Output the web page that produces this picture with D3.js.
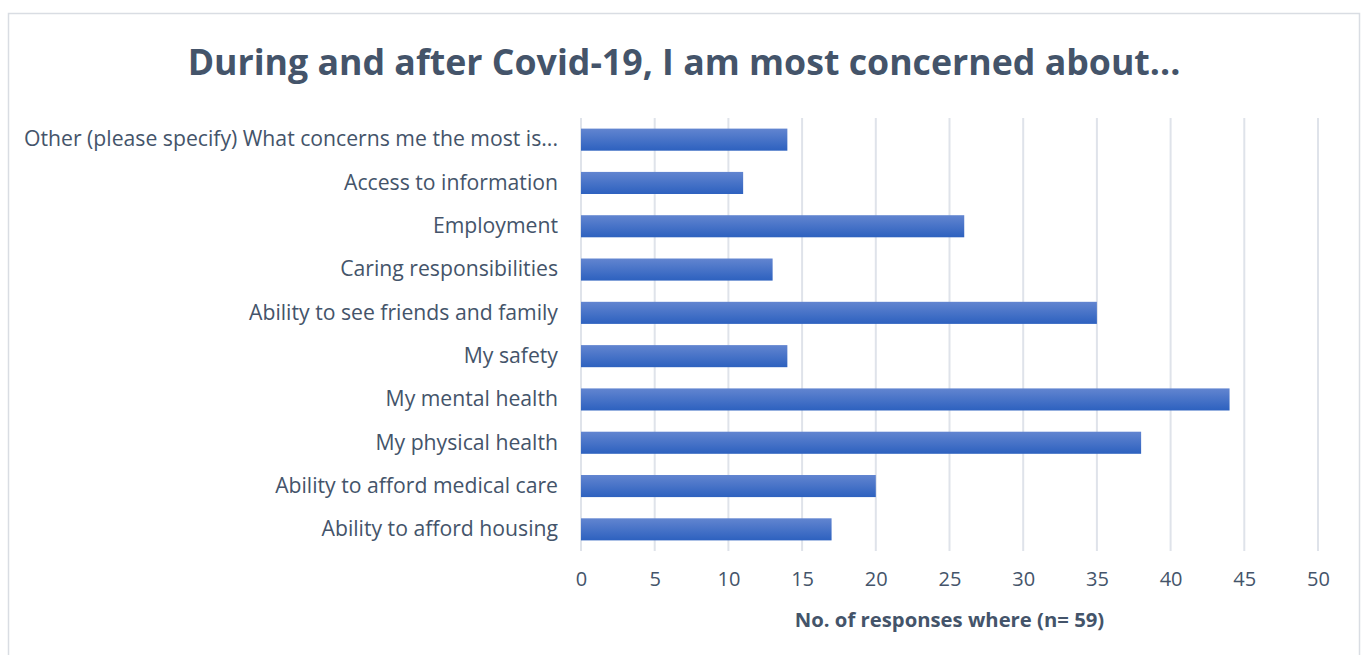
<!DOCTYPE html>
<html>
<head>
<meta charset="utf-8">
<script src="https://cdn.jsdelivr.net/npm/d3@7"></script>
<style>
  body { margin: 0; background: #fff; }
  svg { display: block; font-family: "Open Sans", Lato, sans-serif; }
</style>
</head>
<body>
<svg id="chart"></svg>
<script>
const categories = [
  'Other (please specify) What concerns me the most is...',
  'Access to information',
  'Employment',
  'Caring responsibilities',
  'Ability to see friends and family',
  'My safety',
  'My mental health',
  'My physical health',
  'Ability to afford medical care',
  'Ability to afford housing'
];
const responses = [14, 11, 26, 13, 35, 14, 44, 38, 20, 17];
const xTicks = [0, 5, 10, 15, 20, 25, 30, 35, 40, 45, 50];

const width = 1365;
const height = 655;
const margin = { top: 118, right: 47, bottom: 104, left: 581 };
const textColor = '#44546a';

const svg = d3.select('#chart')
  .attr('width', width)
  .attr('height', height);

// outer chart border
svg.append('rect')
  .attr('x', 8.5).attr('y', 13.5)
  .attr('width', 1351).attr('height', 660)
  .attr('fill', 'none')
  .attr('stroke', '#d9dde3')
  .attr('stroke-width', 1.5);

const defs = svg.append('defs');
const grad = defs.append('linearGradient')
  .attr('id', 'barGrad')
  .attr('x1', 0).attr('y1', 0).attr('x2', 0).attr('y2', 1);
grad.append('stop').attr('offset', '0%').attr('stop-color', '#6285d0');
grad.append('stop').attr('offset', '100%').attr('stop-color', '#2d61bf');

const innerWidth = width - margin.left - margin.right;
const innerHeight = height - margin.top - margin.bottom;

const xScale = d3.scaleLinear().domain([0, 50]).range([0, innerWidth]);
const yScale = d3.scaleBand().domain(categories).range([0, innerHeight])
  .paddingInner(0.49).paddingOuter(0.245);

const g = svg.append('g')
  .attr('transform', `translate(${margin.left}, ${margin.top})`);

// title
svg.append('text')
  .attr('x', 684)
  .attr('y', 75)
  .attr('text-anchor', 'middle')
  .attr('fill', textColor)
  .attr('font-size', 35.7)
  .attr('font-weight', 'bold')
  .text('During and after Covid-19, I am most concerned about...');

// gridlines
g.append('g')
  .selectAll('line')
  .data(xTicks)
  .enter().append('line')
    .attr('x1', d => xScale(d))
    .attr('x2', d => xScale(d))
    .attr('y1', 0)
    .attr('y2', innerHeight)
    .attr('stroke', '#dfe3ea')
    .attr('stroke-width', 2);

// x axis
const xAxis = g.append('g')
  .attr('transform', `translate(0, ${innerHeight})`)
  .call(d3.axisBottom(xScale).tickValues(xTicks).tickSize(0).tickPadding(21))
  .attr('font-family', null);
xAxis.select('.domain').remove();
xAxis.selectAll('text')
  .attr('fill', textColor)
  .attr('font-size', 20);

// y axis
const yAxis = g.append('g')
  .call(d3.axisLeft(yScale).tickSize(0).tickPadding(23))
  .attr('font-family', null);
yAxis.select('.domain').remove();
yAxis.selectAll('text')
  .attr('fill', textColor)
  .attr('font-size', 21.2);

// bars
g.selectAll('.bar')
  .data(categories)
  .enter().append('rect')
    .attr('class', 'bar')
    .attr('x', xScale(0))
    .attr('y', d => yScale(d))
    .attr('width', (d, i) => xScale(responses[i]) - xScale(0))
    .attr('height', yScale.bandwidth())
    .attr('fill', 'url(#barGrad)');

// axis title
svg.append('text')
  .attr('x', margin.left + innerWidth / 2)
  .attr('y', 627)
  .attr('text-anchor', 'middle')
  .attr('fill', textColor)
  .attr('font-size', 20.3)
  .attr('font-weight', 'bold')
  .text('No. of responses where (n= 59)');
</script>
</body>
</html>
